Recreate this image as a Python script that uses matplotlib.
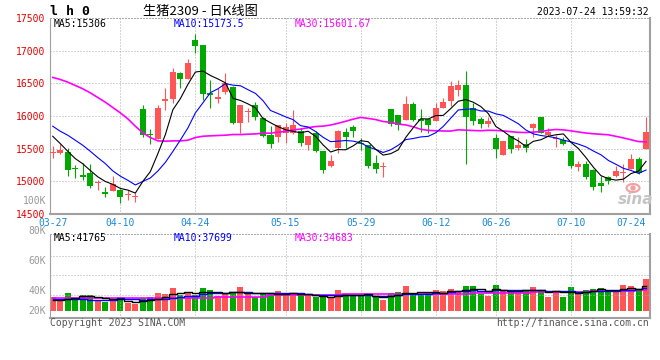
import numpy as np
import pandas as pd
import matplotlib
matplotlib.use("Agg")
import matplotlib.pyplot as plt
from matplotlib.patches import Ellipse
from matplotlib.transforms import IdentityTransform

# ---------------------------------------------------------
# data: 生猪2309 daily bars, 2023-03-27 .. 2023-07-24
# ---------------------------------------------------------
holidays = ["2023-04-05", "2023-05-01", "2023-05-02", "2023-05-03",
            "2023-06-22", "2023-06-23"]
dates = pd.bdate_range("2023-03-27", "2023-07-24")
dates = dates[~dates.isin(pd.to_datetime(holidays))]

opens = [15435, 15440, 15450, 15210, 15097, 15123, 14974, 14836, 14852, 14862,
         14795, 14755, 16100, 15725, 15655, 16232, 16268, 16652, 16565, 17164,
         17087, 16345, 16258, 16371, 16448, 15895, 16058, 16166, 15967, 15711,
         15685, 15737, 15737, 15772, 15558, 15747, 15465, 15240, 15506, 15752,
         15839, 15578, 15557, 15286, 15220, 16105, 16018, 15941, 16187, 15956,
         15951, 15916, 16120, 16233, 16402, 16478, 16120, 15956, 15880, 15665,
         15404, 15696, 15517, 15568, 15813, 15982, 15711, 15650, 15634, 15465,
         15225, 15266, 15174, 14980, 15072, 15082, 15133, 15189, 15338, 15496]
highs = [15537, 15578, 15511, 15245, 15281, 15271, 15026, 14913, 15077, 14887,
         14862, 14821, 16166, 15808, 16166, 16422, 16729, 16678, 16867, 17251,
         17087, 16550, 16422, 16652, 16463, 16166, 16115, 16217, 15992, 15849,
         15864, 15900, 16095, 15813, 15696, 15772, 15465, 15404, 15788, 15823,
         15864, 15660, 15557, 15404, 15302, 16105, 16018, 16309, 16207, 16105,
         15951, 16197, 16274, 16540, 16555, 16683, 16197, 15992, 15982, 15721,
         15624, 15696, 15685, 15645, 15900, 15992, 15813, 15711, 15685, 15465,
         15317, 15317, 15184, 15082, 15082, 15235, 15271, 15414, 15368, 15992]
lows = [15363, 15425, 15087, 15056, 15015, 14898, 14862, 14760, 14852, 14668,
        14708, 14683, 15680, 15578, 15655, 16090, 16202, 16422, 16565, 16959,
        16243, 16115, 16202, 16335, 15875, 15733, 15910, 15936, 15675, 15517,
        15609, 15593, 15726, 15542, 15481, 15455, 15133, 15225, 15440, 15516,
        15685, 15481, 15200, 15123, 15072, 15849, 15778, 15941, 15931, 15762,
        15747, 15916, 16120, 16156, 16309, 15271, 15864, 15813, 15829, 15363,
        15404, 15440, 15481, 15455, 15685, 15747, 15696, 15532, 15558, 15210,
        15164, 15036, 14867, 14841, 14954, 15072, 14985, 15189, 15113, 15496]
closes = [15440, 15475, 15169, 15184, 15072, 14928, 14990, 14810, 14964, 14760,
          14800, 14760, 15706, 15716, 16130, 16258, 16667, 16560, 16806, 17077,
          16335, 16325, 16294, 16509, 15895, 16166, 16064, 15987, 15696, 15573,
          15864, 15829, 15864, 15583, 15696, 15471, 15174, 15317, 15772, 15675,
          15772, 15573, 15240, 15189, 15230, 15880, 15864, 16187, 15941, 15916,
          15864, 16120, 16207, 16463, 16478, 15992, 15916, 15875, 15926, 15491,
          15624, 15491, 15557, 15506, 15880, 15747, 15762, 15665, 15573, 15240,
          15266, 15072, 14918, 14934, 15005, 15159, 15148, 15343, 15123, 15752]
volumes_k = [23.7, 20.4, 29.7, 20.4, 26.4, 26.4, 16.5, 14.9, 18.7, 18.7,
             13.8, 11.6, 21.5, 23.7, 29.7, 28.6, 38.0, 25.9, 31.4, 25.9,
             38.0, 34.7, 25.3, 27.5, 31.4, 39.6, 27.5, 22.6, 29.7, 27.0,
             33.0, 25.9, 29.7, 25.9, 25.9, 23.1, 23.1, 21.0, 34.7, 28.1,
             26.4, 24.8, 24.8, 23.7, 18.2, 30.3, 31.9, 41.3, 26.4, 26.4,
             31.9, 34.7, 33.0, 36.3, 31.9, 41.3, 41.3, 27.5, 25.3, 42.9,
             34.7, 31.9, 30.3, 33.0, 39.6, 34.7, 23.1, 33.0, 23.1, 39.6,
             29.2, 34.7, 36.3, 38.0, 31.9, 34.7, 42.9, 41.3, 34.7, 52.8]

ma5_head = [15690, 15578, 15460, 15348]
ma10_head = [15844, 15767, 15706, 15629, 15552, 15460, 15363, 15271, 15159]
ma30_head = [16591, 16560, 16519, 16468, 16417, 16355, 16284, 16212, 16130, 16049,
             15957, 15844, 15742, 15670, 15619, 15614, 15619, 15619, 15629, 15670,
             15690, 15696, 15701, 15706, 15716, 15716, 15721, 15726, 15737]
vma5_head = [18.7, 17.6, 19.5, 21.0]
vma10_head = [19.3, 19.3, 19.3, 19.3, 19.0, 18.7, 18.7, 18.7, 18.2]
vma30_head = [20.9, 20.9, 20.9, 20.9, 20.9, 20.9, 20.9, 20.9, 20.9, 20.9,
              20.9, 20.9, 20.9, 21.5, 21.5, 21.5, 21.5, 22.0, 22.0, 22.0,
              22.0, 22.0, 22.5, 22.5, 22.5, 22.5, 23.0, 23.0, 23.0]

# values printed in the chart header
price_ma_text = ["MA5:15306", "MA10:15173.5", "MA30:15601.67"]
vol_ma_text = ["MA5:41765", "MA10:37699", "MA30:34683"]

price_ticks = [14500, 15000, 15500, 16000, 16500, 17000, 17500]
tick_dates = ["03-27", "04-10", "04-24", "05-15", "05-29",
              "06-12", "06-26", "07-10", "07-24"]
vol_tick_labels = ["100K", "80K", "60K", "40K", "20K"]


def moving_avg(values, n, head):
    out = pd.Series(values, dtype=float).rolling(n).mean().to_numpy()
    out[:len(head)] = head
    return out


o = np.array(opens, float)
h = np.array(highs, float)
l = np.array(lows, float)
c = np.array(closes, float)
vol = np.array(volumes_k) * 1000
x = np.arange(len(c))
n = len(c)

ma5 = moving_avg(c, 5, ma5_head)
ma10 = moving_avg(c, 10, ma10_head)
ma30 = moving_avg(c, 30, ma30_head)
vma5 = moving_avg(vol, 5, np.array(vma5_head) * 1000)
vma10 = moving_avg(vol, 10, np.array(vma10_head) * 1000)
vma30 = moving_avg(vol, 30, np.array(vma30_head) * 1000)

labels = list(dates.strftime("%m-%d"))
tick_pos = [labels.index(d) for d in tick_dates]

# ---------------------------------------------------------
# styling
# ---------------------------------------------------------
W, H = 660, 360
MONO = "DejaVu Sans Mono"
RED = "#ff5555"
GREEN = "#00a800"
GRID = "#aaaaaa"
FRAME = "#a0a0a0"
DOT = (0, (1, 2))
MA_COLORS = ["black", "#0000ff", "#ff00ff"]
up = c >= o
colors = np.where(up, RED, GREEN)


def frac(x0, y0, x1, y1):
    return [x0 / W, 1 - y1 / H, (x1 - x0) / W, (y1 - y0) / H]


def ptext(px, py, s, **kw):
    kw.setdefault("family", MONO)
    kw.setdefault("fontsize", 7)
    kw.setdefault("va", "center")
    fig.text(px / W, 1 - py / H, s, **kw)


def style_frame(a):
    a.spines["top"].set_linestyle(DOT)
    a.spines["top"].set_color(GRID)
    a.spines["top"].set_linewidth(0.72)
    a.spines["left"].set_color(FRAME)
    a.spines["left"].set_linewidth(0.8)
    a.spines["right"].set_color(FRAME)
    a.spines["right"].set_linewidth(1.5)
    a.spines["bottom"].set_color(FRAME)
    a.spines["bottom"].set_linewidth(1.5)


fig = plt.figure(figsize=(6.6, 3.6), dpi=100)
fig.patch.set_facecolor("white")

# ---------------- price panel ----------------
ax = fig.add_axes(frac(50, 18.1, 650, 213.9))
ax.set_xlim(-0.36, n - 0.47)
ax.set_ylim(14500, 17500)
style_frame(ax)

for v in price_ticks[1:-1]:
    ax.axhline(v, color=GRID, lw=0.72, ls=DOT, zorder=1)
for p in tick_pos[1:-1]:
    ax.axvline(p, color=GRID, lw=0.72, ls=DOT, zorder=1)

ax.vlines(x, l, h, colors=colors, lw=0.8, zorder=3)
body_low = np.minimum(o, c)
body_h = np.maximum(np.abs(c - o), 15)
ax.bar(x, body_h, 0.8, bottom=body_low, color=colors, lw=0, zorder=4)

ax.plot(x, ma30, color=MA_COLORS[2], lw=1.2, zorder=5)
ax.plot(x, ma10, color=MA_COLORS[1], lw=0.8, zorder=6)
ax.plot(x, ma5, color=MA_COLORS[0], lw=0.8, zorder=7)

ax.set_yticks(price_ticks)
ax.set_yticklabels([str(v) for v in price_ticks], family=MONO, fontsize=7)
ax.tick_params(axis="y", length=0, pad=3.5, labelcolor="#e60000")
ax.set_xticks(tick_pos)
ax.set_xticklabels(tick_dates, family=MONO, fontsize=7)
ax.tick_params(axis="x", length=0, pad=3, labelcolor="#1a88d8")
ax.get_xticklabels()[-1].set_ha("right")

# sina watermark
ptext(636, 200, "sina", family="DejaVu Sans", fontsize=11, fontweight="bold",
      style="italic", color="#c4c4c4", ha="center")
fig.add_artist(Ellipse((633, H - 188), 13, 8, transform=IdentityTransform(),
                       fill=False, edgecolor="#f4a0a0", lw=1.5))
fig.add_artist(Ellipse((633, H - 188), 4, 4, transform=IdentityTransform(),
                       color="#f4a0a0"))

# ---------------- volume panel ----------------
VOL_PER_PX = 1650
BASE_PX = 311
vax = fig.add_axes(frac(50, 234, 650, 318))
vax.set_xlim(-0.36, n - 0.47)
vax.set_ylim(-(318 - BASE_PX) * VOL_PER_PX, (BASE_PX - 234) * VOL_PER_PX)
style_frame(vax)
vax.set_xticks([])
vax.set_yticks([])

vax.bar(x, vol, 0.8, color=colors, lw=0, zorder=2)
for py in [255.7, 275.3, 295.3]:
    vax.axhline((BASE_PX - py) * VOL_PER_PX, color=GRID, lw=0.72, ls=DOT, zorder=3)
for p in tick_pos[1:-1]:
    vax.axvline(p, color=GRID, lw=0.72, ls=DOT, zorder=3)

vax.plot(x, vma30, color=MA_COLORS[2], lw=1.2, drawstyle="steps-mid", zorder=4)
vax.plot(x, vma10, color=MA_COLORS[1], lw=1.0, drawstyle="steps-mid", zorder=5)
vax.plot(x, vma5, color=MA_COLORS[0], lw=1.0, drawstyle="steps-mid", zorder=6)

# ---------------- texts ----------------
ptext(50, 11.5, "l h 0", fontsize=9.5, fontweight="bold", color="black")
ptext(200, 11.5, "生猪2309 - 日K线图", family=["Noto Sans CJK SC", "DejaVu Sans"],
      fontsize=9.5, color="black", ha="center")
ptext(649, 12, "2023-07-24 13:59:32", color="black", ha="right")

for px, s, col in zip([54, 174, 295], price_ma_text, MA_COLORS):
    ptext(px, 24, s, color=col)
for px, s, col in zip([54, 174, 295], vol_ma_text, MA_COLORS):
    ptext(px, 238, s, color=col)

for s, py in zip(vol_tick_labels, [200.7, 231, 260.7, 290.7, 310.7]):
    ptext(46, py, s, color="#999999", ha="right")

ptext(50, 323, "Copyright 2023 SINA.COM", color="#555555")
ptext(649, 323, "http://finance.sina.com.cn", color="#555555", ha="right")

fig.savefig("out.png", dpi=100)
